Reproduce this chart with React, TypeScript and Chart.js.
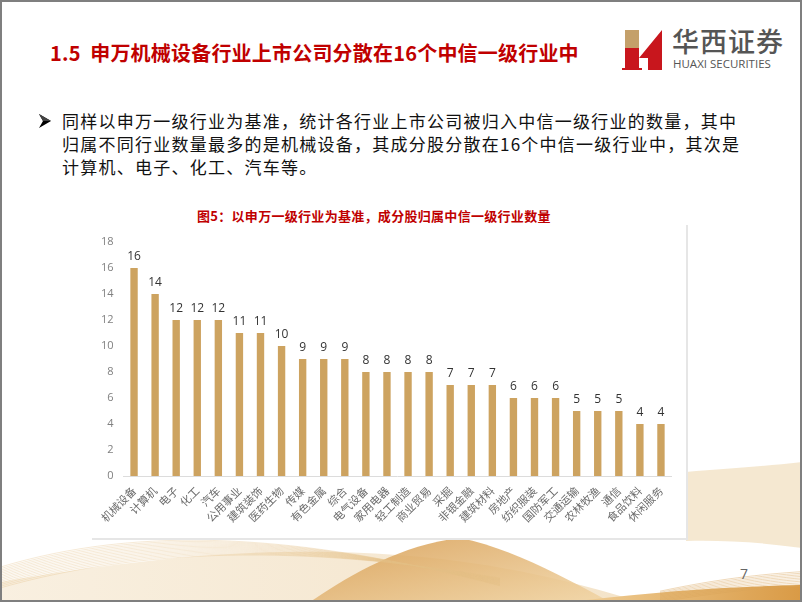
import React, { useEffect, useRef } from "react";
import { Chart, registerables } from "chart.js";

Chart.register(...registerables);

const categories = [
  "机械设备", "计算机", "电子", "化工", "汽车", "公用事业", "建筑装饰", "医药生物",
  "传媒", "有色金属", "综合", "电气设备", "家用电器", "轻工制造", "商业贸易", "采掘",
  "非银金融", "建筑材料", "房地产", "纺织服装", "国防军工", "交通运输", "农林牧渔",
  "通信", "食品饮料", "休闲服务",
];
const counts = [16, 14, 12, 12, 12, 11, 11, 10, 9, 9, 9, 8, 8, 8, 8, 7, 7, 7, 6, 6, 6, 5, 5, 5, 4, 4];
const yMin = 0;
const yMax = 18;
const yStep = 2;

const titleText = "1.5  申万机械设备行业上市公司分散在16个中信一级行业中";
const bodyLines = [
  "同样以申万一级行业为基准，统计各行业上市公司被归入中信一级行业的数量，其中",
  "归属不同行业数量最多的是机械设备，其成分股分散在16个中信一级行业中，其次是",
  "计算机、电子、化工、汽车等。",
];
const captionText = "图5：以申万一级行业为基准，成分股归属中信一级行业数量";
const pageNumber = "7";

const valueLabelPlugin = {
  id: "valueLabels",
  afterDatasetsDraw(chart: any) {
    const ctx = chart.ctx;
    const meta = chart.getDatasetMeta(0);
    const data = chart.data.datasets[0].data;
    ctx.save();
    ctx.font = '12px "Open Sans", "DejaVu Sans", sans-serif';
    ctx.fillStyle = "#333333";
    ctx.textAlign = "center";
    ctx.textBaseline = "bottom";
    meta.data.forEach((bar: any, i: number) => {
      ctx.fillText(String(data[i]), bar.x, bar.y - 5);
    });
    ctx.restore();
  },
};

function BarChart() {
  const ref = useRef<HTMLCanvasElement | null>(null);
  useEffect(() => {
    if (!ref.current) return;
    const chart = new Chart(ref.current, {
      type: "bar",
      data: {
        labels: categories,
        datasets: [
          {
            data: counts,
            backgroundColor: "#CDA360",
            barPercentage: 0.7,
            categoryPercentage: 0.5,
          },
        ],
      },
      options: {
        responsive: false,
        animation: false,
        devicePixelRatio: 1,
        layout: { padding: { top: 17, right: 14.5, left: 0, bottom: 0 } },
        plugins: { legend: { display: false }, tooltip: { enabled: false } },
        scales: {
          x: {
            grid: { display: false, drawTicks: false },
            border: { display: true, color: "#dcdcdc", width: 1 },
            ticks: {
              autoSkip: false,
              minRotation: 45,
              maxRotation: 45,
              padding: 8,
              color: "#6b6b6b",
              font: { family: '"Noto Sans CJK SC", sans-serif', size: 11 },
            },
            afterFit: (s: any) => {
              s.height = 62;
            },
          },
          y: {
            min: yMin,
            max: yMax,
            ticks: {
              stepSize: yStep,
              padding: 10,
              color: "#808080",
              font: { family: '"Open Sans", sans-serif', size: 11 },
            },
            grid: { display: false, drawTicks: false },
            border: { display: false },
            afterFit: (s: any) => {
              s.width = 31.5;
            },
          },
        },
      },
      plugins: [valueLabelPlugin],
    } as any);
    return () => chart.destroy();
  }, []);
  return <canvas ref={ref} width={594} height={313} style={{ display: "block" }} />;
}

function Waves() {
  const lines: JSX.Element[] = [];
  for (let i = 0; i < 14; i++) {
    lines.push(
      <path
        key={"l" + i}
        d={`M0 ${588 - i * 1.6} C 140 ${548 - i * 1.8}, 300 ${544 - i * 0.8}, 500 ${578 + i * 0.6}`}
        stroke="#e2bd85"
        strokeWidth={0.6}
        fill="none"
        opacity={0.55}
      />
    );
  }
  for (let i = 0; i < 10; i++) {
    lines.push(
      <path
        key={"r" + i}
        d={`M660 ${602 - i * 1.2} C 720 ${592 - i * 1.5}, 760 ${588 - i * 1.5}, 802 ${586 - i * 1.6}`}
        stroke="#d9a358"
        strokeWidth={0.7}
        fill="none"
        opacity={0.6}
      />
    );
  }
  return (
    <svg width={802} height={602} style={{ position: "absolute", left: 0, top: 0 }}>
      <defs>
        <linearGradient id="gA" x1="0" y1="0" x2="1" y2="0">
          <stop offset="0" stopColor="#f6e9d3" />
          <stop offset="1" stopColor="#efd8b2" />
        </linearGradient>
        <linearGradient id="gB" x1="0" y1="0" x2="1" y2="1">
          <stop offset="0" stopColor="#d69a4c" />
          <stop offset="1" stopColor="#f1d5a5" />
        </linearGradient>
        <linearGradient id="gD" x1="0" y1="0" x2="1" y2="0">
          <stop offset="0" stopColor="#f0cf98" />
          <stop offset="1" stopColor="#d99a45" />
        </linearGradient>
      </defs>
      <path d="M0 602 L0 582 C 120 562, 220 550, 330 552 C 430 554, 520 565, 640 602 Z" fill="url(#gA)" opacity={0.7} />
      <path d="M310 602 C 350 575, 400 545, 460 538 C 510 548, 560 575, 610 602 Z" fill="url(#gB)" opacity={0.85} />
      <path d="M686 472 C 730 468, 770 466, 802 462 L802 548 C 760 542, 720 540, 686 541 Z" fill="#f3e2c6" opacity={0.8} />
      <path d="M570 602 C 650 592, 720 587, 802 585 L802 602 Z" fill="url(#gD)" />
      {lines}
    </svg>
  );
}

function Logo() {
  return (
    <div style={{ position: "absolute", left: 622, top: 28, width: 170, height: 46 }}>
      <svg width={42} height={44} style={{ position: "absolute", left: 0, top: 0 }}>
        <rect x={3} y={2} width={14} height={18} fill="#c4a06a" />
        <rect x={3} y={20} width={14} height={22} fill="#c8161d" />
        <polygon points="17,30 40,2 40,42 26,42 26,30" fill="#c8161d" />
        <rect x={0} y={40} width={20} height={2} fill="#c8161d" />
      </svg>
      <div
        style={{
          position: "absolute",
          left: 50,
          top: -2,
          fontFamily: '"Noto Sans CJK SC", sans-serif',
          fontWeight: 500,
          fontSize: 27,
          letterSpacing: 1,
          color: "#555555",
          whiteSpace: "nowrap",
          lineHeight: "30px",
        }}
      >
        华西证券
      </div>
      <div
        style={{
          position: "absolute",
          left: 51,
          top: 29,
          fontFamily: '"Open Sans", sans-serif',
          fontSize: 11.5,
          color: "#555555",
          whiteSpace: "nowrap",
          lineHeight: "14px",
        }}
      >
        HUAXI SECURITIES
      </div>
    </div>
  );
}

export default function App() {
  return (
    <div
      style={{
        position: "fixed",
        left: 0,
        top: 0,
        width: 802,
        height: 602,
        boxSizing: "border-box",
        border: "2px solid #7f7f7f",
        background: "#ffffff",
        overflow: "hidden",
      }}
    >
      <div style={{ position: "absolute", left: -2, top: -2, width: 802, height: 602 }}>
        <Waves />
        <div
          style={{
            position: "absolute",
            left: 50,
            top: 40,
            fontFamily: '"Noto Sans CJK SC", sans-serif',
            fontWeight: 700,
            fontSize: 20,
            letterSpacing: 0.2,
            color: "#c00000",
            whiteSpace: "pre",
            lineHeight: "26px",
          }}
        >
          {titleText}
        </div>
        <Logo />
        <svg width={14} height={16} style={{ position: "absolute", left: 38, top: 113 }}>
          <polygon points="1,1 13,8 1,15 5,8" fill="#000000" />
          <polygon points="1,1 13,8 5,8" fill="#444444" />
        </svg>
        <div
          style={{
            position: "absolute",
            left: 62,
            top: 109,
            fontFamily: '"Noto Sans CJK SC", sans-serif',
            fontSize: 17,
            letterSpacing: 1.25,
            color: "#111111",
            whiteSpace: "pre",
            lineHeight: "23px",
          }}
        >
          {bodyLines.map((l, i) => (
            <div key={i}>{l}</div>
          ))}
        </div>
        <div
          style={{
            position: "absolute",
            left: 197,
            top: 207,
            fontFamily: '"Noto Sans CJK SC", sans-serif',
            fontWeight: 700,
            fontSize: 13,
            letterSpacing: 0.3,
            color: "#c00000",
            whiteSpace: "pre",
            lineHeight: "18px",
          }}
        >
          {captionText}
        </div>
        <div
          style={{
            position: "absolute",
            left: 92,
            top: 225,
            width: 594,
            height: 313,
            background: "#ffffff",
            borderRight: "2px solid #e6e6e6",
            borderBottom: "2px solid #e6e6e6",
          }}
        >
          <BarChart />
        </div>
        <div
          style={{
            position: "absolute",
            left: 740,
            top: 565,
            fontFamily: '"Open Sans", sans-serif',
            fontSize: 14,
            color: "#666666",
            lineHeight: "18px",
          }}
        >
          {pageNumber}
        </div>
      </div>
    </div>
  );
}
